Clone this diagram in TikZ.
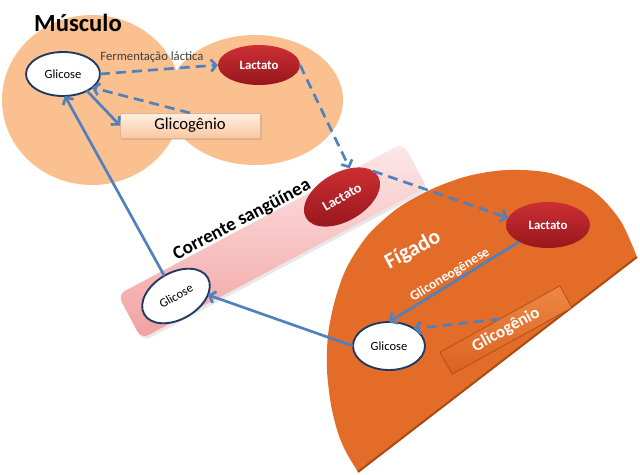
\documentclass[tikz,border=0pt]{standalone}
\usepackage{fontspec}
\setmainfont{Carlito}
\usetikzlibrary{arrows.meta,shapes.geometric,shadows}
\definecolor{peach}{RGB}{250,192,143}
\definecolor{arrowblue}{RGB}{79,129,189}
\definecolor{navy}{RGB}{31,56,100}
\definecolor{liver}{RGB}{227,108,40}
\definecolor{liveredge}{RGB}{170,75,20}
\definecolor{redtop}{RGB}{205,48,52}
\definecolor{redbot}{RGB}{150,22,28}
\definecolor{pinktop}{RGB}{253,232,232}
\definecolor{pinkbot}{RGB}{242,160,160}
\definecolor{txtgray}{RGB}{64,64,64}
\definecolor{boxtop}{RGB}{254,240,228}
\definecolor{boxbot}{RGB}{250,200,160}
\definecolor{ggtop}{RGB}{238,135,68}
\definecolor{ggbot}{RGB}{218,98,32}
\begin{document}
\begin{tikzpicture}[x=0.75pt,y=-0.75pt,
  every node/.style={inner sep=0pt, outer sep=0pt},
  ell/.style={ellipse, draw=navy, line width=1.4pt, fill=white, font=\fontsize{9.4}{11}\selectfont},
  redell/.style={ellipse, top color=redtop, bottom color=redbot, draw=none, text=white, font=\bfseries\fontsize{9.6}{11}\selectfont},
  glmbox/.style={rectangle, top color=boxtop, bottom color=boxbot, draw=boxbot!90!black, line width=0.4pt, font=\fontsize{12.5}{14}\selectfont, drop shadow={opacity=0.25, shadow xshift=1.5pt, shadow yshift=-1.5pt}},
  ggbox/.style={rectangle, top color=ggtop, bottom color=ggbot, draw=liveredge, line width=0.5pt, text=white, font=\bfseries\fontsize{12.8}{14}\selectfont},
  band/.style={rectangle, rounded corners=6pt, top color=pinktop, bottom color=pinkbot, draw=none, drop shadow={opacity=0.18, shadow xshift=1.5pt, shadow yshift=-2pt}},
  conn/.style={draw=arrowblue, line width=2pt, -{Straight Barb[length=4pt,width=9pt]}},
  dashconn/.style={conn, dash pattern=on 7.5pt off 4.5pt},
]
\fill[white] (0,0) rectangle (640,475);
\useasboundingbox (0,0) rectangle (640,475);
% Muscle
\fill[peach] (92,100) ellipse [x radius=67.5pt, y radius=63.75pt];
\fill[peach] (255,100) ellipse [x radius=66pt, y radius=48.75pt];
% Blood band
\node[band, rotate=28, minimum width=242pt, minimum height=37.5pt] (band) at (272,241) {};
% Liver
\fill[liver] plot[smooth] coordinates {(358,472) (346,452) (338,433) (331,405) (327,370) (328,335) (335,300) (347,267) (368,235) (398,208) (432,189) (468,176) (507,170) (550,173) (592,190) (620,220) (637,257)} -- cycle;
\draw[liveredge, line width=1.5pt] (637,257) -- (358,472);
% Texts
\node[font=\bfseries\fontsize{18.5}{20}\selectfont] (tm) at (78,23) {Músculo};
\node[font=\fontsize{9.5}{11}\selectfont, text=txtgray] (tf) at (152,57) {Fermentação láctica};
\node[font=\bfseries\fontsize{14.2}{16}\selectfont, rotate=28] (tc) at (242,220) {Corrente sangüínea};
\node[font=\bfseries\fontsize{16.4}{18}\selectfont, text=white, rotate=28] (tfig) at (413,250) {Fígado};
% Nodes
\node[ell, minimum width=55.5pt, minimum height=33pt] (gm) at (63,74) {Glicose};
\node[redell, minimum width=61.5pt, minimum height=30pt] (lm) at (259,65) {Lactato};
\node[glmbox, minimum width=105pt, minimum height=18.75pt] (glm) at (190,125.5) {Glicogênio};
\node[redell, rotate=30, minimum width=62.4pt, minimum height=36.4pt, font=\bfseries\fontsize{10.5}{12}\selectfont] (lb) at (342,197) {Lactato};
\node[ell, rotate=30, minimum width=55pt, minimum height=35pt] (gb) at (176,296) {Glicose};
\node[redell, minimum width=63pt, minimum height=34.5pt] (ll) at (548,225) {Lactato};
\node[ell, minimum width=54pt, minimum height=36pt] (gl) at (389,346) {Glicose};
\node[ggbox, rotate=29, minimum width=102.75pt, minimum height=18.75pt] (gg) at (506,330) {Glicogênio};
% Connectors
\draw[dashconn] (gm.east) -- (lm.west);
\draw[dashconn] (lm.east) -- (lb.45);
\draw[dashconn] (lb.10) -- (ll.170);
\draw[conn] (ll.210) -- node[sloped, above=1.5pt, text=white, font=\bfseries\fontsize{10.3}{12}\selectfont] {Gliconeogênese} (gl.north);
\draw[dashconn] (gg.north) -- (gl.35);
\draw[conn] (gl.west) -- (gb.-28);
\draw[conn] (gb.north) -- (gm.275);
\draw[conn] (gm.-35) -- (glm.west);
\draw[dashconn] (glm.north) -- (gm.-25);
\end{tikzpicture}
\end{document}
